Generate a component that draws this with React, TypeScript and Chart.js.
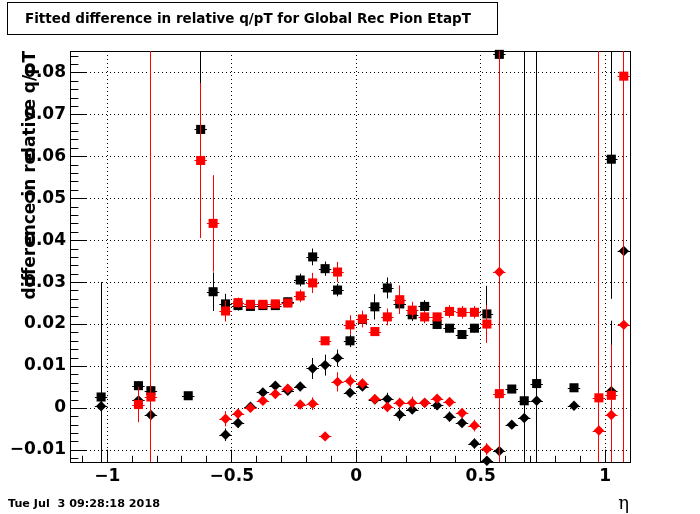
import React, { useEffect, useRef } from 'react';
import { Chart, registerables } from 'chart.js';

Chart.register(...registerables);

const TITLE = 'Fitted difference in relative q/pT for Global Rec Pion EtapT';
const Y_TITLE = 'difference in relative q/pT';
const X_TITLE = 'η';
const DATE_TEXT = 'Tue Jul  3 09:28:18 2018';

const X_MIN = -1.15;
const X_MAX = 1.1;
const Y_MIN = -0.0129;
const Y_MAX = 0.0851;
const X_TICKS = [-1, -0.5, 0, 0.5, 1];
const Y_TICKS = [-0.01, 0, 0.01, 0.02, 0.03, 0.04, 0.05, 0.06, 0.07, 0.08];
const X_MINOR_STEP = 0.1;
const Y_MINOR_STEP = 0.002;
const BIN_HALF = 0.025;

// black squares
const BS_X = [-1.025, -0.875, -0.825, -0.675, -0.625, -0.575, -0.525, -0.475, -0.425, -0.375, -0.325, -0.275, -0.225, -0.175, -0.125, -0.075, -0.025, 0.025, 0.075, 0.125, 0.175, 0.225, 0.275, 0.325, 0.375, 0.425, 0.475, 0.525, 0.575, 0.625, 0.675, 0.725, 0.875, 1.025];
const BS_Y = [0.0026, 0.0053, 0.0041, 0.0029, 0.0664, 0.0277, 0.0248, 0.0244, 0.0242, 0.0244, 0.0244, 0.0253, 0.0305, 0.036, 0.0332, 0.0281, 0.016, 0.0211, 0.0241, 0.0286, 0.0248, 0.0222, 0.0242, 0.0199, 0.019, 0.0175, 0.019, 0.0224, 0.0843, 0.0045, 0.0017, 0.0058, 0.0048, 0.0593];
const BS_ERR = [0.0274, 0.001, 0.001, 0.0005, 0.022, 0.0046, 0.0024, 0.0012, 0.001, 0.001, 0.001, 0.001, 0.0015, 0.002, 0.0017, 0.0015, 0.0015, 0.0012, 0.003, 0.0025, 0.0015, 0.0015, 0.0015, 0.001, 0.001, 0.001, 0.001, 0.0067, 0.05, 0.0005, 0.1, 0.1, 0.0005, 0.0333];

// red squares
const RS_X = [-0.875, -0.825, -0.625, -0.575, -0.525, -0.475, -0.425, -0.375, -0.325, -0.275, -0.225, -0.175, -0.125, -0.075, -0.025, 0.025, 0.075, 0.125, 0.175, 0.225, 0.275, 0.325, 0.375, 0.425, 0.475, 0.525, 0.575, 0.975, 1.025, 1.075];
const RS_Y = [0.0008, 0.0026, 0.059, 0.044, 0.0231, 0.0251, 0.0247, 0.0247, 0.0248, 0.025, 0.0267, 0.0298, 0.016, 0.0324, 0.0198, 0.0212, 0.0182, 0.0217, 0.0258, 0.0233, 0.0217, 0.0217, 0.023, 0.0228, 0.0228, 0.02, 0.0034, 0.0024, 0.003, 0.0791];
const RS_ERR = [0.0042, 0.2, 0.0185, 0.0115, 0.0025, 0.0012, 0.001, 0.001, 0.001, 0.001, 0.0015, 0.0024, 0.001, 0.0024, 0.0023, 0.002, 0.001, 0.002, 0.0034, 0.002, 0.0015, 0.001, 0.0015, 0.0015, 0.0015, 0.0045, 0.2, 0.2, 0.012, 0.2];

// black diamonds
const BD_X = [-1.025, -0.875, -0.825, -0.525, -0.475, -0.425, -0.375, -0.325, -0.275, -0.225, -0.175, -0.125, -0.075, -0.025, 0.025, 0.075, 0.125, 0.175, 0.225, 0.275, 0.325, 0.375, 0.425, 0.475, 0.525, 0.575, 0.625, 0.675, 0.725, 0.875, 1.025, 1.075];
const BD_Y = [0.0004, 0.0018, -0.0017, -0.0064, -0.0036, 0.0003, 0.0037, 0.0053, 0.0041, 0.0051, 0.0094, 0.0102, 0.0119, 0.0036, 0.0051, 0.002, 0.0021, -0.0016, -0.0004, 0.0012, 0.0006, -0.0021, -0.0036, -0.0085, -0.0126, -0.0103, -0.004, -0.0024, 0.0017, 0.0005, 0.004, 0.0374];
const BD_ERR = [0.0005, 0.0005, 0.0005, 0.0015, 0.0012, 0.001, 0.0008, 0.0008, 0.001, 0.001, 0.0025, 0.0025, 0.002, 0.001, 0.001, 0.001, 0.0015, 0.0015, 0.001, 0.001, 0.0008, 0.0012, 0.001, 0.0012, 0.001, 0.0008, 0.0005, 0.0005, 0.0005, 0.0005, 0.0168, 0.0005];

// red diamonds
const RD_X = [-0.525, -0.475, -0.425, -0.375, -0.325, -0.275, -0.225, -0.175, -0.125, -0.075, -0.025, 0.025, 0.075, 0.125, 0.175, 0.225, 0.275, 0.325, 0.375, 0.425, 0.475, 0.525, 0.575, 0.975, 1.025, 1.075];
const RD_Y = [-0.0026, -0.0014, 0.0, 0.0017, 0.0033, 0.0046, 0.0008, 0.001, -0.0068, 0.0062, 0.0064, 0.0058, 0.0021, 0.0002, 0.0012, 0.0012, 0.0012, 0.0022, 0.0014, -0.0012, -0.0042, -0.0098, 0.0324, -0.0054, -0.0017, 0.0198];
const RD_ERR = [0.0018, 0.001, 0.001, 0.0008, 0.0008, 0.001, 0.001, 0.0015, 0.0005, 0.0023, 0.0015, 0.0012, 0.0012, 0.0012, 0.0012, 0.0015, 0.0012, 0.001, 0.001, 0.0012, 0.0014, 0.0014, 0.0008, 0.0008, 0.0168, 0.0008];

const BLACK = '#000000';
const RED = '#ff0000';
const FONT = 'DejaVu Sans';

// error arrays and colours, in dataset index order
const ERRS = [RD_ERR, RS_ERR, BD_ERR, BS_ERR];
const ERR_COLORS = [RED, RED, BLACK, BLACK];

function pts(xs: number[], ys: number[]) {
  return xs.map((x, i) => ({ x, y: ys[i] }));
}

function fmtY(v: number) {
  if (Math.abs(v) < 1e-9) return '0';
  return v.toFixed(2).replace('-', '\u2212');
}
function fmtX(v: number) {
  if (Math.abs(v) < 1e-9) return '0';
  return String(v).replace('-', '\u2212');
}

const clamp = (v: number, lo: number, hi: number) => Math.max(lo, Math.min(hi, v));

const rootPlugin = {
  id: 'rootStyle',
  beforeDatasetsDraw(chart: any) {
    const { ctx, chartArea: a, scales } = chart;
    const xs = scales.x;
    const ys = scales.y;
    ctx.save();
    ctx.strokeStyle = BLACK;
    ctx.lineWidth = 1;
    ctx.setLineDash([1, 3]);
    ctx.beginPath();
    X_TICKS.forEach((v) => {
      const px = Math.floor(xs.getPixelForValue(v)) + 0.5;
      ctx.moveTo(px, a.top);
      ctx.lineTo(px, a.bottom);
    });
    Y_TICKS.forEach((v) => {
      const py = Math.round(ys.getPixelForValue(v)) + 0.5;
      ctx.moveTo(a.left, py);
      ctx.lineTo(a.right, py);
    });
    ctx.stroke();
    ctx.setLineDash([]);
    const xMajorLen = 0.03 * (a.bottom - a.top);
    const yMajorLen = 0.03 * (a.right - a.left);
    ctx.beginPath();
    for (let k = Math.ceil(X_MIN / X_MINOR_STEP - 1e-6); k * X_MINOR_STEP <= X_MAX + 1e-9; k++) {
      const v = k * X_MINOR_STEP;
      const major = X_TICKS.some((t) => Math.abs(t - v) < 1e-6);
      const px = Math.floor(xs.getPixelForValue(v)) + 0.5;
      ctx.moveTo(px, a.bottom);
      ctx.lineTo(px, a.bottom - (major ? xMajorLen : xMajorLen / 2));
    }
    for (let k = Math.ceil(Y_MIN / Y_MINOR_STEP - 1e-6); k * Y_MINOR_STEP <= Y_MAX + 1e-9; k++) {
      const v = k * Y_MINOR_STEP;
      const major = Y_TICKS.some((t) => Math.abs(t - v) < 1e-6);
      const py = Math.round(ys.getPixelForValue(v)) + 0.5;
      ctx.moveTo(a.left, py);
      ctx.lineTo(a.left + (major ? yMajorLen : yMajorLen / 2), py);
    }
    ctx.stroke();
    ctx.strokeRect(Math.round(a.left) + 0.5, Math.round(a.top) + 0.5, Math.round(a.right - a.left), Math.round(a.bottom - a.top));
    ctx.restore();
  },
  beforeDatasetDraw(chart: any, args: any) {
    const i = args.index;
    const ds = chart.data.datasets[i];
    const errs = ERRS[i];
    const { ctx, chartArea: a, scales } = chart;
    const xs = scales.x;
    const ys = scales.y;
    ctx.save();
    ctx.strokeStyle = ERR_COLORS[i];
    ctx.lineWidth = 1;
    ds.data.forEach((p: any, j: number) => {
      const e = errs[j];
      const px = Math.floor(xs.getPixelForValue(p.x)) + 0.5;
      const py = Math.round(ys.getPixelForValue(p.y)) + 0.5;
      const y1 = clamp(ys.getPixelForValue(p.y + e), a.top, a.bottom);
      const y2 = clamp(ys.getPixelForValue(p.y - e), a.top, a.bottom);
      ctx.beginPath();
      ctx.moveTo(px, y1);
      ctx.lineTo(px, y2);
      if (py > a.top && py < a.bottom) {
        ctx.moveTo(xs.getPixelForValue(p.x - BIN_HALF), py);
        ctx.lineTo(xs.getPixelForValue(p.x + BIN_HALF), py);
      }
      ctx.stroke();
    });
    ctx.restore();
  },
  afterDraw(chart: any) {
    const { ctx, chartArea: a } = chart;
    ctx.save();
    ctx.fillStyle = '#ffffff';
    ctx.fillRect(8, 3, 489, 31);
    ctx.strokeStyle = BLACK;
    ctx.lineWidth = 1;
    ctx.strokeRect(7.5, 2.5, 490, 32);
    ctx.fillStyle = BLACK;
    ctx.font = `bold 13.5px "${FONT}"`;
    ctx.textAlign = 'left';
    ctx.textBaseline = 'middle';
    ctx.fillText(TITLE, 25, 19);
    ctx.font = `bold 11.2px "${FONT}"`;
    ctx.fillText(DATE_TEXT, 8, 504);
    ctx.font = `18px "DejaVu Serif"`;
    ctx.textAlign = 'right';
    ctx.fillText(X_TITLE, a.right - 1, 504);
    ctx.translate(31, a.top);
    ctx.rotate(-Math.PI / 2);
    ctx.font = `bold 17px "${FONT}"`;
    ctx.textAlign = 'right';
    ctx.textBaseline = 'middle';
    ctx.fillText(Y_TITLE, 0, 0);
    ctx.restore();
  },
};

export default function App() {
  const ref = useRef<HTMLCanvasElement | null>(null);
  useEffect(() => {
    if (!ref.current) return;
    const mk = (label: string, xs: number[], ys: number[], color: string, style: string, radius: number, order: number) => ({
      label,
      data: pts(xs, ys),
      pointStyle: style,
      pointRadius: radius,
      pointHoverRadius: radius,
      pointBackgroundColor: color,
      pointBorderColor: color,
      pointBorderWidth: 0,
      showLine: false,
      clip: false,
      order,
    });
    const chart = new Chart(ref.current, {
      type: 'scatter',
      data: {
        datasets: [
          mk('red diamonds', RD_X, RD_Y, RED, 'rectRot', 5.2, 1),
          mk('red squares', RS_X, RS_Y, RED, 'rect', 6.4, 2),
          mk('black diamonds', BD_X, BD_Y, BLACK, 'rectRot', 5.2, 3),
          mk('black squares', BS_X, BS_Y, BLACK, 'rect', 6.4, 4),
        ] as any,
      },
      options: {
        responsive: false,
        animation: false,
        devicePixelRatio: 1,
        layout: { padding: { left: 0, right: 70, top: 51, bottom: 0 } },
        plugins: { legend: { display: false }, tooltip: { enabled: false }, title: { display: false } },
        events: [],
        scales: {
          x: {
            type: 'linear',
            min: X_MIN,
            max: X_MAX,
            grid: { display: false, drawTicks: false },
            border: { display: false },
            afterBuildTicks: (s: any) => { s.ticks = X_TICKS.map((v) => ({ value: v })); },
            afterFit: (s: any) => { s.height = 52; },
            ticks: {
              autoSkip: false,
              maxRotation: 0,
              padding: 4,
              color: BLACK,
              font: { family: FONT, weight: 'bold', size: 17 },
              callback: (v: any) => fmtX(Number(v)),
            },
          },
          y: {
            type: 'linear',
            min: Y_MIN,
            max: Y_MAX,
            grid: { display: false, drawTicks: false },
            border: { display: false },
            afterBuildTicks: (s: any) => { s.ticks = Y_TICKS.map((v) => ({ value: v })); },
            afterFit: (s: any) => { s.width = 70; },
            ticks: {
              autoSkip: false,
              padding: 4,
              color: BLACK,
              font: { family: FONT, weight: 'bold', size: 17 },
              callback: (v: any) => fmtY(Number(v)),
            },
          },
        },
      } as any,
      plugins: [rootPlugin],
    });
    return () => chart.destroy();
  }, []);
  return (
    <div style={{ position: 'absolute', left: 0, top: 0, width: 700, height: 514, background: '#fff' }}>
      <canvas ref={ref} width={700} height={514} style={{ display: 'block' }} />
    </div>
  );
}
